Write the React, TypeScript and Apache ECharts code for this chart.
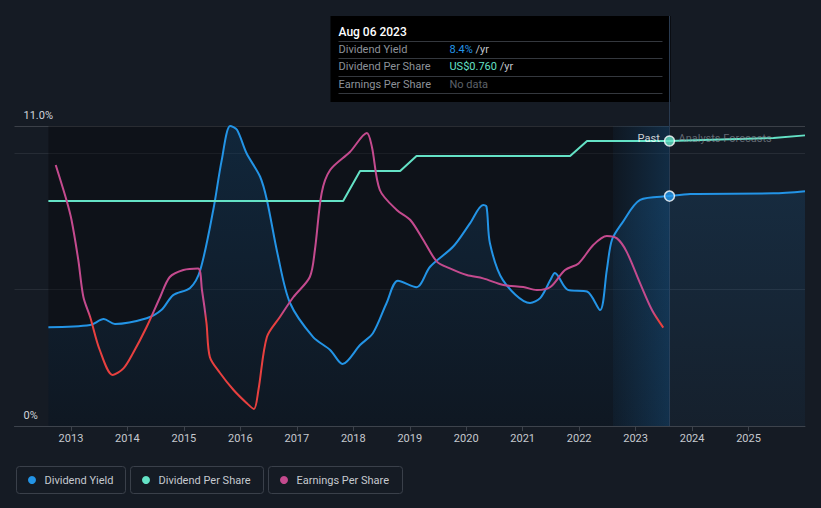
import React, { useEffect, useRef } from "react";
import * as echarts from "echarts";

// ---- data ----
const tickYears = [2013, 2014, 2015, 2016, 2017, 2018, 2019, 2020, 2021, 2022, 2023, 2024, 2025];

const yieldYears = [
  2012.6, 2013.34, 2013.58, 2013.78, 2014.34, 2014.6, 2014.81, 2015.11, 2015.29, 2015.52, 2015.67,
  2015.82, 2015.94, 2016.11, 2016.35, 2016.47, 2016.66, 2016.88, 2017.29, 2017.59, 2017.81, 2018.12,
  2018.35, 2018.59, 2018.79, 2019.12, 2019.36, 2019.77, 2020.07, 2020.3, 2020.36, 2020.42, 2020.65,
  2021.13, 2021.31, 2021.49, 2021.57, 2021.8, 2022.14, 2022.37, 2022.49, 2022.58, 2022.76, 2023.08,
  2023.6, 2023.97, 2025.44, 2026.0,
];
const yieldValues = [
  3.62, 3.7, 3.92, 3.74, 3.95, 4.25, 4.8, 5.06, 5.72, 7.92, 9.75,
  11.0, 10.86, 10.0, 9.14, 8.29, 6.3, 4.51, 3.26, 2.79, 2.27, 2.97,
  3.41, 4.51, 5.33, 5.09, 5.84, 6.58, 7.44, 8.1, 8.04, 6.7, 5.35,
  4.51, 4.69, 5.35, 5.61, 4.99, 4.93, 4.25, 5.72, 6.82, 7.44, 8.29,
  8.43, 8.51, 8.53, 8.61,
];

const dpsYears = [2012.6, 2017.82, 2018.12, 2018.83, 2019.12, 2021.84, 2022.14, 2023.6, 2024.5, 2025.44, 2026.0];
const dpsValues = [0.6, 0.6, 0.68, 0.68, 0.72, 0.72, 0.76, 0.76, 0.764, 0.768, 0.775];

const epsYears = [
  2012.73, 2012.92, 2013.01, 2013.13, 2013.22, 2013.34, 2013.51, 2013.74, 2013.93, 2014.1, 2014.34,
  2014.58, 2014.75, 2014.99, 2015.25, 2015.32, 2015.4, 2015.46, 2015.64, 2015.88, 2016.11, 2016.24,
  2016.32, 2016.47, 2016.7, 2016.94, 2017.23, 2017.32, 2017.44, 2017.59, 2017.94, 2018.24, 2018.33,
  2018.47, 2018.77, 2019.01, 2019.24, 2019.48, 2019.71, 2020.01, 2020.3, 2020.66, 2021.01, 2021.25,
  2021.49, 2021.75, 2021.99, 2022.25, 2022.49, 2022.67, 2022.84, 2023.08, 2023.29, 2023.49,
];
const epsValues = [
  0.76, 0.585, 0.485, 0.285, 0.1, 0.0, -0.165, -0.29, -0.257, -0.18, -0.05,
  0.1, 0.2, 0.235, 0.243, 0.135, -0.03, -0.2, -0.28, -0.365, -0.43, -0.46,
  -0.365, -0.1, 0.0, 0.1, 0.2, 0.335, 0.62, 0.735, 0.825, 0.92, 0.85,
  0.635, 0.535, 0.485, 0.385, 0.277, 0.243, 0.21, 0.193, 0.16, 0.15, 0.135,
  0.15, 0.235, 0.268, 0.36, 0.405, 0.393, 0.327, 0.168, 0.035, -0.053,
];

const nowYear = 2023.6;
const lastYearStart = 2022.6;
const pastStart = 2012.6;
const nowLabel = "Aug 06 2023";
const seriesNames = ["Dividend Yield", "Dividend Per Share", "Earnings Per Share"];

const BG = "#151b24";
const BLUE = "#2394e6";
const TEAL = "#64e2c6";
const PINK = "#c44a8e";
const RED = "#e8403f";
const FONT = "Roboto, 'Noto Sans', sans-serif";

const zip = (xs: number[], ys: number[]) => xs.map((x, i) => [x, ys[i]]);

export default function App() {
  const ref = useRef<HTMLDivElement>(null);

  useEffect(() => {
    document.body.style.margin = "0";
    document.body.style.background = BG;
    const chart = echarts.init(ref.current!, null, { renderer: "svg" });

    const nowYield = yieldValues[yieldYears.indexOf(nowYear)];
    const nowDps = dpsValues[dpsYears.indexOf(nowYear)];

    const option: any = {
      animation: false,
      backgroundColor: BG,
      textStyle: { fontFamily: FONT },
      grid: { left: 14.5, right: 16, top: 126, bottom: 82, containLabel: false },
      xAxis: {
        type: "value",
        min: 2012,
        max: 2026,
        axisLine: { show: true, lineStyle: { color: "#3d434c", width: 1 } },
        axisTick: { show: true, length: 5, lineStyle: { color: "#3d434c" }, customValues: tickYears },
        axisLabel: {
          color: "#c5c9cf",
          fontSize: 11,
          fontFamily: FONT,
          margin: 7,
          customValues: tickYears,
          formatter: (v: number) => String(v),
        },
        splitLine: { show: false },
      },
      yAxis: [
        {
          type: "value",
          min: 0,
          max: 11,
          interval: 5,
          axisLine: { show: false },
          axisTick: { show: false },
          axisLabel: {
            inside: true,
            margin: 9,
            color: "#d0d4da",
            fontSize: 11,
            fontFamily: FONT,
            verticalAlign: "bottom",
            padding: [0, 0, 5, 0],
            formatter: (v: number) => (v === 11 ? "11.0%" : v === 0 ? "0%" : ""),
          },
          splitLine: {
            show: true,
            lineStyle: { color: ["#3d434c", "#262c35", "#262c35", "#3b4048"], width: 1 },
          },
        },
        { type: "value", min: 0, max: 0.8, show: false, splitLine: { show: false } },
        { type: "value", min: -0.545, max: 0.955, show: false, splitLine: { show: false } },
      ],
      series: [
        {
          id: "regions",
          type: "line",
          data: [[pastStart, 0]],
          symbol: "none",
          lineStyle: { opacity: 0 },
          z: 1,
          silent: true,
          markArea: {
            silent: true,
            data: [
              [{ xAxis: pastStart, itemStyle: { color: "rgba(0,0,0,0.3)" } }, { xAxis: nowYear }],
              [
                {
                  xAxis: lastYearStart,
                  itemStyle: {
                    color: new echarts.graphic.LinearGradient(0, 0, 1, 0, [
                      { offset: 0, color: "rgba(33,150,243,0.04)" },
                      { offset: 1, color: "rgba(33,150,243,0.2)" },
                    ]),
                  },
                },
                { xAxis: nowYear },
              ],
            ],
          },
        },
        {
          id: "yield",
          name: seriesNames[0],
          type: "line",
          data: zip(yieldYears, yieldValues),
          yAxisIndex: 0,
          smooth: 0.3,
          symbol: "none",
          lineStyle: { color: BLUE, width: 2 },
          areaStyle: {
            color: new echarts.graphic.LinearGradient(0, 0, 0, 1, [
              { offset: 0, color: "rgba(33,150,243,0.22)" },
              { offset: 1, color: "rgba(33,150,243,0.06)" },
            ]),
          },
          z: 3,
        },
        {
          id: "dps",
          name: seriesNames[1],
          type: "line",
          data: zip(dpsYears, dpsValues),
          yAxisIndex: 1,
          smooth: false,
          symbol: "none",
          lineStyle: { color: TEAL, width: 2 },
          z: 4,
        },
        {
          id: "eps",
          name: seriesNames[2],
          type: "line",
          data: zip(epsYears, epsValues),
          yAxisIndex: 2,
          smooth: 0.3,
          symbol: "none",
          lineStyle: { color: PINK, width: 2 },
          z: 5,
        },
        {
          id: "dotYield",
          type: "scatter",
          yAxisIndex: 0,
          data: [[nowYear, nowYield]],
          symbol: "circle",
          symbolSize: 10,
          itemStyle: { color: BLUE, borderColor: "#ffffff", borderWidth: 1.5 },
          z: 8,
        },
        {
          id: "dotDps",
          type: "scatter",
          yAxisIndex: 1,
          data: [[nowYear, nowDps]],
          symbol: "circle",
          symbolSize: 10,
          itemStyle: { color: TEAL, borderColor: "#ffffff", borderWidth: 1.5 },
          label: {
            show: true,
            position: "left",
            distance: 4,
            offset: [0, -3],
            formatter: "Past",
            color: "#ffffff",
            fontSize: 11,
            fontFamily: FONT,
          },
          z: 8,
        },
      ],
    };

    chart.setOption(option);

    const xNow = chart.convertToPixel({ xAxisIndex: 0 }, nowYear) as number;
    const yZeroEps = chart.convertToPixel({ yAxisIndex: 2 }, 0) as number;
    const yBase = chart.convertToPixel({ yAxisIndex: 0 }, 0) as number;
    const yNowDps = chart.convertToPixel({ yAxisIndex: 1 }, nowDps) as number;

    const epsGradient = new echarts.graphic.LinearGradient(
      0,
      yZeroEps - 6,
      0,
      yZeroEps + 4,
      [
        { offset: 0, color: PINK },
        { offset: 1, color: RED },
      ],
      true
    );

    const tipRight = xNow + 1;
    const tipLeft = tipRight - 340;
    const rowLabel = (text: string, y: number) => ({
      type: "text",
      x: tipLeft + 8,
      y,
      style: { text, fill: "#8d9299", fontSize: 11, fontFamily: FONT, verticalAlign: "middle" },
    });
    const sep = (y: number) => ({
      type: "line",
      shape: { x1: tipLeft + 8, y1: y, x2: tipRight - 8, y2: y },
      style: { stroke: "#34383e", lineWidth: 1 },
    });
    const valueText = (rich: string, y: number) => ({
      type: "text",
      x: tipLeft + 119,
      y,
      style: {
        text: rich,
        fontSize: 11,
        fontFamily: FONT,
        verticalAlign: "middle",
        rich: {
          b: { fill: BLUE, fontSize: 11, fontFamily: FONT },
          t: { fill: TEAL, fontSize: 11, fontFamily: FONT },
          u: { fill: "#c2c6cc", fontSize: 11, fontFamily: FONT },
          n: { fill: "#5d6269", fontSize: 11, fontFamily: FONT },
        },
      },
    });

    const legendItems = [
      { name: seriesNames[0], color: BLUE, x: 16.5, w: 109 },
      { name: seriesNames[1], color: TEAL, x: 130.5, w: 133 },
      { name: seriesNames[2], color: PINK, x: 268.5, w: 134 },
    ];

    const graphic: any[] = [
      {
        type: "line",
        z: 1,
        silent: true,
        shape: { x1: xNow, y1: 16, x2: xNow, y2: yBase },
        style: { stroke: "#2a3b50", lineWidth: 1 },
      },
      {
        type: "text",
        z: 9,
        silent: true,
        x: xNow + 9,
        y: yNowDps - 3,
        style: {
          text: "Analysts Forecasts",
          fill: "rgba(150,156,164,0.6)",
          fontSize: 11,
          fontFamily: FONT,
          verticalAlign: "middle",
        },
      },
      {
        type: "group",
        z: 20,
        children: [
          {
            type: "rect",
            shape: { x: tipLeft, y: 16, width: 340, height: 86 },
            style: { fill: "#000000" },
          },
          {
            type: "text",
            x: tipLeft + 8,
            y: 31.5,
            style: {
              text: nowLabel,
              fill: "#ffffff",
              fontSize: 12,
              fontWeight: 500,
              fontFamily: FONT,
              verticalAlign: "middle",
            },
          },
          sep(41.5),
          rowLabel(seriesNames[0], 49.5),
          valueText(`{b|${nowYield.toFixed(1)}%} {u|/yr}`, 49.5),
          sep(58.5),
          rowLabel(seriesNames[1], 66.5),
          valueText(`{t|US$${nowDps.toFixed(3)}} {u|/yr}`, 66.5),
          sep(76.5),
          rowLabel(seriesNames[2], 84),
          valueText(`{n|No data}`, 84),
          sep(93.5),
        ],
      },
      ...legendItems.map((it) => ({
        type: "group",
        z: 20,
        children: [
          {
            type: "rect",
            shape: { x: it.x, y: 466.5, width: it.w, height: 27, r: 3 },
            style: { fill: "transparent", stroke: "#3a404a", lineWidth: 1 },
          },
          {
            type: "circle",
            shape: { cx: it.x + 15.5, cy: 480, r: 4 },
            style: { fill: it.color },
          },
          {
            type: "text",
            x: it.x + 28,
            y: 480,
            style: {
              text: it.name,
              fill: "#c5c9cf",
              fontSize: 11,
              fontFamily: FONT,
              verticalAlign: "middle",
            },
          },
        ],
      })),
    ];

    chart.setOption({
      series: [{ id: "eps", lineStyle: { color: epsGradient } }],
      graphic,
    });

    return () => chart.dispose();
  }, []);

  return <div ref={ref} style={{ width: 821, height: 508 }} />;
}
